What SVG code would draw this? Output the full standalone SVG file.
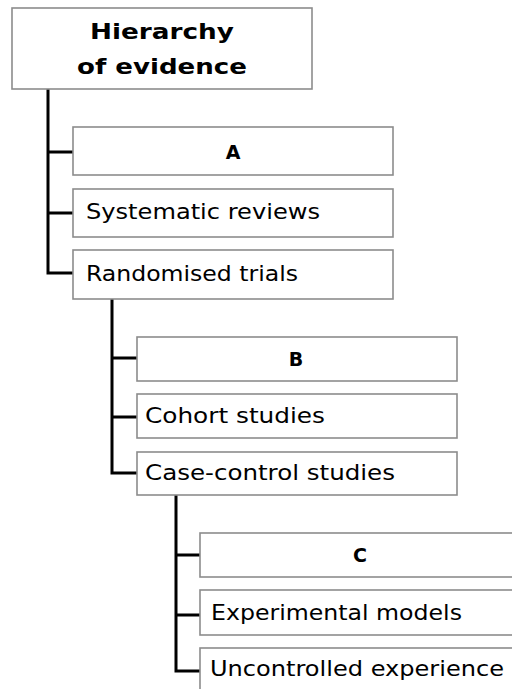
<svg xmlns="http://www.w3.org/2000/svg" width="512" height="689" viewBox="0 0 512 689">
<style>
.box{fill:#fff;stroke:#8c8c8c;stroke-width:1.6}
.lbl{font-family:"DejaVu Sans","Liberation Sans",sans-serif;font-size:21px;fill:#000}
.hd{font-family:"DejaVu Sans","Liberation Sans",sans-serif;font-size:21px;font-weight:bold;fill:#000;text-anchor:middle}
.ltr{font-family:"DejaVu Sans","Liberation Sans",sans-serif;font-size:19px;font-weight:bold;fill:#000;text-anchor:middle}
.conn{fill:none;stroke:#000;stroke-width:3}
</style>
<rect width="512" height="689" fill="#fff"/>
<g id="connectors">
<path class="conn" d="M48 89V273H73M48 152H73M48 213H73"/>
<path class="conn" d="M112 299V473H137M112 358H137M112 417H137"/>
<path class="conn" d="M176 495V671H200M176 555H200M176 615H200"/>
</g>
<g id="root"><rect class="box" x="12" y="8" width="300" height="81"/>
<text class="hd" x="162" y="39" textLength="144" lengthAdjust="spacingAndGlyphs">Hierarchy</text>
<text class="hd" x="162" y="74" textLength="170" lengthAdjust="spacingAndGlyphs">of evidence</text></g>
<g id="A"><rect class="box" x="73" y="127" width="320" height="48"/><text class="ltr" x="233" y="159">A</text></g>
<g id="systematic"><rect class="box" x="73" y="189" width="320" height="48"/><text class="lbl" x="86" y="219" textLength="234" lengthAdjust="spacingAndGlyphs">Systematic reviews</text></g>
<g id="randomised"><rect class="box" x="73" y="250" width="320" height="49"/><text class="lbl" x="86" y="281" textLength="212" lengthAdjust="spacingAndGlyphs">Randomised trials</text></g>
<g id="B"><rect class="box" x="137" y="337" width="320" height="44"/><text class="ltr" x="296" y="366">B</text></g>
<g id="cohort"><rect class="box" x="137" y="394" width="320" height="44"/><text class="lbl" x="145" y="423" textLength="180" lengthAdjust="spacingAndGlyphs">Cohort studies</text></g>
<g id="casecontrol"><rect class="box" x="137" y="452" width="320" height="43"/><text class="lbl" x="145" y="480" textLength="250" lengthAdjust="spacingAndGlyphs">Case-control studies</text></g>
<g id="C"><rect class="box" x="200" y="533" width="320" height="44"/><text class="ltr" x="360" y="562">C</text></g>
<g id="experimental"><rect class="box" x="200" y="590" width="320" height="45"/><text class="lbl" x="211" y="620" textLength="251" lengthAdjust="spacingAndGlyphs">Experimental models</text></g>
<g id="uncontrolled"><rect class="box" x="200" y="648" width="320" height="60"/><text class="lbl" x="210" y="676" textLength="294" lengthAdjust="spacingAndGlyphs">Uncontrolled experience</text></g>
</svg>
